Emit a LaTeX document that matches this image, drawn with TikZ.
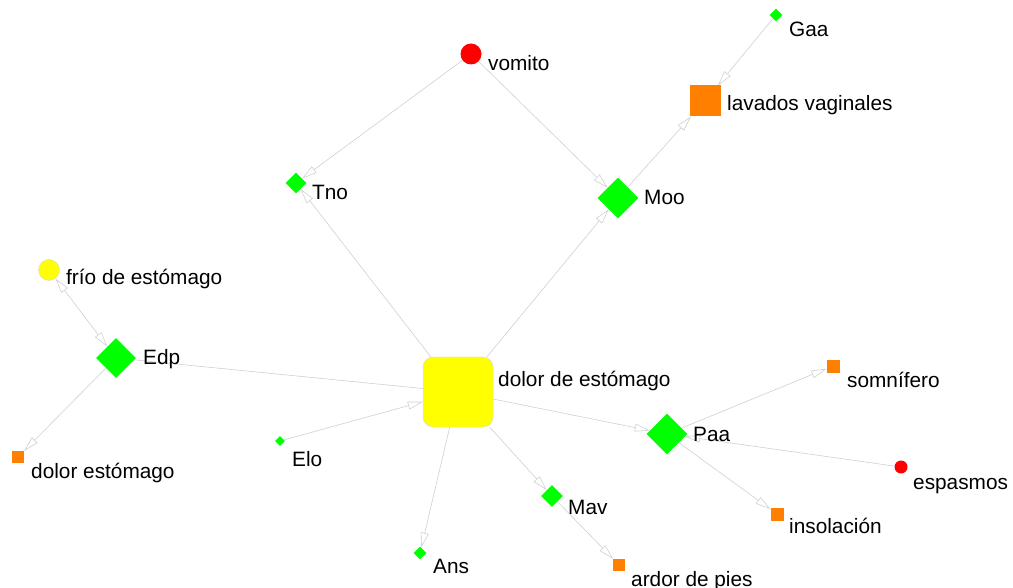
\documentclass[tikz,border=0pt]{standalone}
\usepackage{fontspec}
\setmainfont{Liberation Sans}
\usetikzlibrary{shapes.geometric,arrows.meta,backgrounds}
\definecolor{edgegray}{RGB}{208,208,208}
\definecolor{nodegreen}{RGB}{0,255,0}
\definecolor{nodeorange}{RGB}{255,128,0}
\definecolor{nodered}{RGB}{255,0,0}
\definecolor{nodeyellow}{RGB}{255,255,0}
\begin{document}
\begin{tikzpicture}[x=1pt,y=-1pt,
  gdiam/.style={shape=diamond,fill=nodegreen,inner sep=0pt,minimum size=#1},
  osq/.style={shape=rectangle,fill=nodeorange,inner sep=0pt,minimum size=#1},
  rcirc/.style={shape=circle,fill=nodered,inner sep=0pt,minimum size=#1},
  ycirc/.style={shape=circle,fill=nodeyellow,draw=black!15,line width=0.4pt,inner sep=0pt,minimum size=#1},
  lbl/.style={anchor=base west,inner sep=0pt,font=\fontsize{20.8}{24}\selectfont},
  edge/.style={draw=edgegray,line width=0.6pt,-{Triangle[open,length=15pt,width=8pt]}},
  bedge/.style={draw=edgegray,line width=0.6pt,{Triangle[open,length=15pt,width=8pt]}-{Triangle[open,length=15pt,width=8pt]}},
  pedge/.style={draw=edgegray,line width=0.6pt}
]
\useasboundingbox (0,0) rectangle (1013,588);
% nodes
\node[shape=rectangle,rounded corners=10pt,fill=nodeyellow,draw=black!15,line width=0.4pt,minimum size=70pt,inner sep=0pt] (ds) at (458,392) {};
\node[rcirc=21pt] (vom) at (471,54) {};
\node[gdiam=13pt] (gaa) at (776,15) {};
\node[osq=31pt] (lav) at (705,101) {};
\node[gdiam=21pt] (tno) at (296,183) {};
\node[gdiam=41pt] (moo) at (618,198) {};
\node[ycirc=21pt] (frio) at (49,270) {};
\node[gdiam=40pt] (edp) at (116,358) {};
\node[osq=12pt] (dest) at (18,457) {};
\node[gdiam=10pt] (elo) at (280,441) {};
\node[gdiam=13pt] (ans) at (420,553) {};
\node[gdiam=22pt] (mav) at (552,496) {};
\node[osq=12pt] (ardor) at (619,565) {};
\node[gdiam=41pt] (paa) at (667,434) {};
\node[osq=13pt] (somn) at (833,366) {};
\node[rcirc=13pt] (esp) at (901,467) {};
\node[osq=13pt] (ins) at (777,514) {};
% labels
\node[lbl] (l-ds) at (498,386) {dolor de estómago};
\node[lbl] (l-vom) at (488,71) {vomito};
\node[lbl] (l-gaa) at (789,37) {Gaa};
\node[lbl] (l-lav) at (727,111) {lavados vaginales};
\node[lbl] (l-tno) at (312,200) {Tno};
\node[lbl] (l-moo) at (644,205) {Moo};
\node[lbl] (l-frio) at (66,285) {frío de estómago};
\node[lbl] (l-edp) at (143,365) {Edp};
\node[lbl] (l-dest) at (31,478) {dolor estómago};
\node[lbl] (l-elo) at (292,466) {Elo};
\node[lbl] (l-ans) at (433,573) {Ans};
\node[lbl] (l-mav) at (568,514) {Mav};
\node[lbl] (l-ardor) at (631,586) {ardor de pies};
\node[lbl] (l-paa) at (693,441) {Paa};
\node[lbl] (l-somn) at (847,388) {somnífero};
\node[lbl] (l-esp) at (913,489) {espasmos};
\node[lbl] (l-ins) at (789,533) {insolación};
% edges
\begin{scope}[on background layer]
\draw[edge] (vom) -- (tno);
\draw[edge] (vom) -- (moo);
\draw[edge] (ds) -- (tno);
\draw[edge] (ds) -- (moo);
\draw[edge] (moo) -- (lav);
\draw[edge] (gaa) -- (lav);
\draw[bedge] (frio) -- (edp);
\draw[edge] (edp) -- (dest);
\draw[pedge] (edp) -- (ds);
\draw[edge] (elo) -- (ds);
\draw[edge] (ds) -- (paa);
\draw[edge] (ds) -- (ans);
\draw[edge] (ds) -- (mav);
\draw[edge] (mav) -- (ardor);
\draw[edge] (paa) -- (somn);
\draw[edge] (paa) -- (ins);
\draw[edge] (esp) -- (paa);
\end{scope}
\end{tikzpicture}
\end{document}
